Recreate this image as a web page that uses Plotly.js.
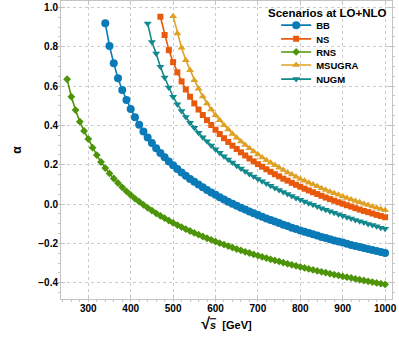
<!DOCTYPE html>
<html>
<head>
<meta charset="utf-8">
<script src="https://cdn.plot.ly/plotly-3.0.1.min.js"></script>
<style>
  html, body { margin: 0; padding: 0; background: #fff; }
  #chart { width: 399px; height: 340px; }
</style>
</head>
<body>
<div id="chart"></div>
<script>
// Escenarios y su energía inicial (GeV), paso de 10 GeV
const names = ["BB", "NS", "RNS", "MSUGRA", "NUGM"];
const startEnergy = [340, 470, 250, 500, 440];
const stepEnergy = 10;

// Valores de alpha
const alphaBB = [0.920, 0.804, 0.716, 0.640, 0.580, 0.529, 0.484, 0.442, 0.404, 0.369,
  0.338, 0.310, 0.284, 0.260, 0.238, 0.217, 0.197, 0.178, 0.161, 0.144,
  0.128, 0.113, 0.099, 0.085, 0.072, 0.059, 0.047, 0.035, 0.023, 0.012,
  0.002, -0.009, -0.019, -0.028, -0.038, -0.047, -0.056, -0.065, -0.073, -0.081,
  -0.089, -0.097, -0.105, -0.112, -0.120, -0.127, -0.134, -0.141, -0.147, -0.154,
  -0.160, -0.167, -0.173, -0.179, -0.185, -0.191, -0.196, -0.202, -0.208, -0.213,
  -0.218, -0.224, -0.229, -0.234, -0.239, -0.244, -0.249];

const alphaNS = [0.953, 0.860, 0.783, 0.722, 0.670, 0.624, 0.583, 0.546, 0.512, 0.481,
  0.453, 0.427, 0.402, 0.378, 0.356, 0.335, 0.316, 0.297, 0.280, 0.263,
  0.247, 0.232, 0.217, 0.203, 0.190, 0.177, 0.164, 0.152, 0.141, 0.129,
  0.119, 0.108, 0.098, 0.088, 0.078, 0.069, 0.060, 0.051, 0.042, 0.033,
  0.025, 0.017, 0.009, 0.002, -0.006, -0.013, -0.021, -0.028, -0.035, -0.041,
  -0.048, -0.055, -0.061, -0.067];

const alphaRNS = [0.635, 0.546, 0.478, 0.419, 0.372, 0.331, 0.287, 0.249, 0.214, 0.183,
  0.156, 0.130, 0.107, 0.085, 0.065, 0.046, 0.028, 0.012, -0.004, -0.019,
  -0.033, -0.047, -0.060, -0.072, -0.084, -0.096, -0.107, -0.117, -0.128, -0.137,
  -0.147, -0.156, -0.165, -0.174, -0.182, -0.191, -0.199, -0.206, -0.214, -0.221,
  -0.229, -0.236, -0.243, -0.249, -0.256, -0.262, -0.269, -0.275, -0.281, -0.287,
  -0.292, -0.298, -0.304, -0.309, -0.314, -0.320, -0.325, -0.330, -0.335, -0.340,
  -0.345, -0.349, -0.354, -0.359, -0.363, -0.368, -0.372, -0.376, -0.381, -0.385,
  -0.389, -0.393, -0.397, -0.401, -0.405, -0.409];

const alphaMSUGRA = [0.956, 0.868, 0.795, 0.732, 0.681, 0.630, 0.586, 0.547, 0.512, 0.481,
  0.452, 0.426, 0.401, 0.379, 0.357, 0.337, 0.318, 0.300, 0.284, 0.268,
  0.252, 0.237, 0.223, 0.210, 0.197, 0.185, 0.173, 0.161, 0.150, 0.139,
  0.128, 0.118, 0.109, 0.099, 0.090, 0.081, 0.072, 0.063, 0.055, 0.047,
  0.039, 0.031, 0.023, 0.016, 0.009, 0.002, -0.005, -0.012, -0.019, -0.025,
  -0.032];

const alphaNUGM = [0.919, 0.825, 0.766, 0.698, 0.644, 0.593, 0.546, 0.508, 0.474, 0.443,
  0.414, 0.388, 0.363, 0.340, 0.319, 0.298, 0.279, 0.261, 0.243, 0.227,
  0.211, 0.195, 0.181, 0.167, 0.153, 0.140, 0.128, 0.116, 0.104, 0.093,
  0.082, 0.071, 0.061, 0.051, 0.041, 0.031, 0.022, 0.013, 0.004, -0.004,
  -0.013, -0.021, -0.029, -0.037, -0.044, -0.052, -0.059, -0.067, -0.074, -0.081,
  -0.087, -0.094, -0.101, -0.107, -0.113, -0.120, -0.126];

const alphas = [alphaBB, alphaNS, alphaRNS, alphaMSUGRA, alphaNUGM];

// Estilo de cada escenario
const colors = ["#0b7bb8", "#e8590c", "#4d9409", "#e0a024", "#12898c"];
const symbols = ["circle", "square", "diamond", "triangle-up", "triangle-down"];
const sizes = [8, 6, 6, 7, 7];
// Posición vertical de cada entrada de la leyenda (paper)
const legendY = [0.919, 0.873, 0.829, 0.785, 0.738];

const font = "Liberation Sans, Arial, sans-serif";

const data = names.map((name, i) => ({
  type: "scatter",
  mode: "lines+markers",
  name: name,
  x0: startEnergy[i],
  dx: stepEnergy,
  y: alphas[i],
  line: { color: colors[i], width: 1.6 },
  marker: { color: colors[i], symbol: symbols[i], size: sizes[i] },
  legend: i === 0 ? "legend" : "legend" + (i + 1),
}));

// Una leyenda por traza para controlar el espaciado
const legendBase = {
  x: 0.65,
  xanchor: "left",
  yanchor: "middle",
  bgcolor: "rgba(0,0,0,0)",
  borderwidth: 0,
  font: { family: font, size: 9.5, color: "#000", weight: "bold" },
  itemclick: false,
};

const layout = {
  width: 399,
  height: 340,
  margin: { l: 61, r: 7, t: 1, b: 41 },
  paper_bgcolor: "#fff",
  plot_bgcolor: "#fff",
  font: { family: font, color: "#000" },
  showlegend: true,
  xaxis: {
    range: [235.6, 1016.3],
    tickvals: [300, 400, 500, 600, 700, 800, 900, 1000],
    tickfont: { family: font, size: 10, weight: "bold" },
    showgrid: true,
    gridcolor: "#cccccc",
    griddash: "dot",
    gridwidth: 1,
    zeroline: false,
    showline: true,
    mirror: "ticks",
    linecolor: "#c4c4c4",
    linewidth: 1,
    ticks: "inside",
    ticklen: 4,
    tickcolor: "#c4c4c4",
    minor: { dtick: 20, ticklen: 2, tickcolor: "#c4c4c4", showgrid: false },
    title: {
      text: '<span style="font-size:16px">√</span><span style="text-decoration:overline"><i>s</i></span>  [GeV]',
      font: { family: font, size: 11, weight: "bold" },
      standoff: 8,
    },
  },
  yaxis: {
    range: [-0.483, 1.033],
    tickvals: [-0.4, -0.2, 0, 0.2, 0.4, 0.6, 0.8, 1.0],
    tickformat: ".1f",
    tickfont: { family: font, size: 10, weight: "bold" },
    showgrid: true,
    gridcolor: "#cccccc",
    griddash: "dot",
    gridwidth: 1,
    zeroline: false,
    showline: true,
    mirror: "ticks",
    linecolor: "#c4c4c4",
    linewidth: 1,
    ticks: "inside",
    ticklen: 4,
    tickcolor: "#c4c4c4",
    minor: { dtick: 0.05, ticklen: 2, tickcolor: "#c4c4c4", showgrid: false },
    title: {
      text: "α",
      font: { family: font, size: 12, weight: "bold" },
      standoff: 14,
    },
  },
  annotations: [
    {
      text: "Scenarios at LO+NLO",
      xref: "paper",
      yref: "paper",
      x: 0.804,
      y: 0.961,
      xanchor: "center",
      yanchor: "middle",
      showarrow: false,
      font: { family: font, size: 11.5, weight: "bold", color: "#000" },
    },
  ],
};

names.forEach((n, i) => {
  const key = i === 0 ? "legend" : "legend" + (i + 1);
  layout[key] = Object.assign({}, legendBase, { y: legendY[i] });
});

Plotly.newPlot("chart", data, layout, { displayModeBar: false, staticPlot: true });
</script>
</body>
</html>
